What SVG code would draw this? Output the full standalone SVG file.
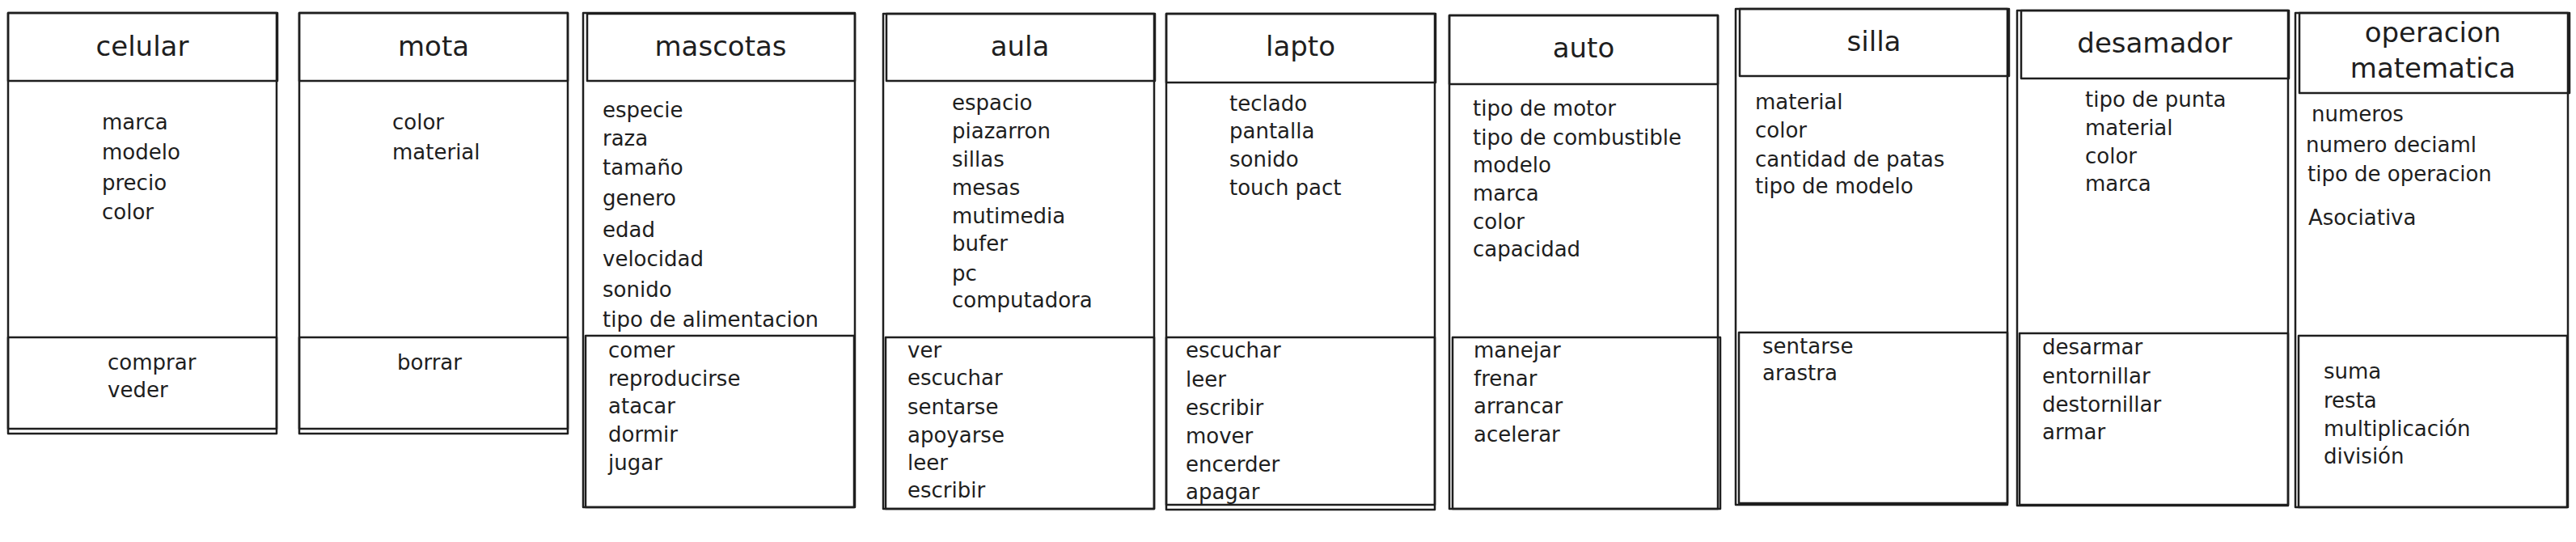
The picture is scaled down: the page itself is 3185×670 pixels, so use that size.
<svg xmlns="http://www.w3.org/2000/svg" width="3185" height="670" viewBox="0 0 3185 670">
<style>
.bg{fill:#ffffff}
.r{fill:none;stroke:#1e1e1e;stroke-width:2.5;stroke-linejoin:round}
text{font-family:"DejaVu Sans","Liberation Sans",sans-serif;fill:#1e1e1e}
.t{font-size:34px;text-anchor:middle}
.i{font-size:26px}
</style>
<rect class="bg" x="0" y="0" width="3185" height="670"/>
<g id="connectors"></g>

<g id="celular">
<rect class="r" x="10" y="16" width="332" height="520"/>
<rect class="r" x="10" y="16" width="333" height="84"/>
<rect class="r" x="10" y="417" width="332" height="113"/>
<text class="t" x="176" y="69">celular</text>
<text class="i" x="126" y="160">marca</text>
<text class="i" x="126" y="197">modelo</text>
<text class="i" x="126" y="235">precio</text>
<text class="i" x="126" y="271">color</text>
<text class="i" x="133" y="457">comprar</text>
<text class="i" x="133" y="491">veder</text>
</g>

<g id="mota">
<rect class="r" x="370" y="16" width="332" height="520"/>
<rect class="r" x="370" y="16" width="332" height="84"/>
<rect class="r" x="370" y="417" width="332" height="113"/>
<text class="t" x="536" y="69">mota</text>
<text class="i" x="485" y="160">color</text>
<text class="i" x="485" y="197">material</text>
<text class="i" x="491" y="457">borrar</text>
</g>

<g id="mascotas">
<rect class="r" x="721" y="16" width="336" height="611"/>
<rect class="r" x="726" y="17" width="331" height="83"/>
<rect class="r" x="724" y="415" width="332" height="212"/>
<text class="t" x="891" y="69">mascotas</text>
<text class="i" x="745" y="145">especie</text>
<text class="i" x="745" y="180">raza</text>
<text class="i" x="745" y="216">tamaño</text>
<text class="i" x="745" y="254">genero</text>
<text class="i" x="745" y="293">edad</text>
<text class="i" x="745" y="329">velocidad</text>
<text class="i" x="745" y="367">sonido</text>
<text class="i" x="745" y="404">tipo de alimentacion</text>
<text class="i" x="752" y="442">comer</text>
<text class="i" x="752" y="477">reproducirse</text>
<text class="i" x="752" y="511">atacar</text>
<text class="i" x="752" y="546">dormir</text>
<text class="i" x="752" y="581">jugar</text>
</g>

<g id="aula">
<rect class="r" x="1092" y="17" width="335" height="612"/>
<rect class="r" x="1096" y="17" width="332" height="83"/>
<rect class="r" x="1095" y="417" width="332" height="212"/>
<text class="t" x="1261" y="69">aula</text>
<text class="i" x="1177" y="136">espacio</text>
<text class="i" x="1177" y="171">piazarron</text>
<text class="i" x="1177" y="206">sillas</text>
<text class="i" x="1177" y="241">mesas</text>
<text class="i" x="1177" y="276">mutimedia</text>
<text class="i" x="1177" y="310">bufer</text>
<text class="i" x="1177" y="347">pc</text>
<text class="i" x="1177" y="380">computadora</text>
<text class="i" x="1122" y="442">ver</text>
<text class="i" x="1122" y="476">escuchar</text>
<text class="i" x="1122" y="512">sentarse</text>
<text class="i" x="1122" y="547">apoyarse</text>
<text class="i" x="1122" y="581">leer</text>
<text class="i" x="1122" y="615">escribir</text>
</g>

<g id="lapto">
<rect class="r" x="1442" y="17" width="332" height="613"/>
<rect class="r" x="1442" y="17" width="333" height="85"/>
<rect class="r" x="1442" y="417" width="332" height="207"/>
<text class="t" x="1608" y="69">lapto</text>
<text class="i" x="1520" y="137">teclado</text>
<text class="i" x="1520" y="171">pantalla</text>
<text class="i" x="1520" y="206">sonido</text>
<text class="i" x="1520" y="241">touch pact</text>
<text class="i" x="1466" y="442">escuchar</text>
<text class="i" x="1466" y="478">leer</text>
<text class="i" x="1466" y="513">escribir</text>
<text class="i" x="1466" y="548">mover</text>
<text class="i" x="1466" y="583">encerder</text>
<text class="i" x="1466" y="617">apagar</text>
</g>

<g id="auto">
<rect class="r" x="1792" y="19" width="332" height="610"/>
<rect class="r" x="1792" y="19" width="332" height="85"/>
<rect class="r" x="1796" y="417" width="331" height="212"/>
<text class="t" x="1958" y="71">auto</text>
<text class="i" x="1821" y="143">tipo de motor</text>
<text class="i" x="1821" y="179">tipo de combustible</text>
<text class="i" x="1821" y="213">modelo</text>
<text class="i" x="1821" y="248">marca</text>
<text class="i" x="1821" y="283">color</text>
<text class="i" x="1821" y="317">capacidad</text>
<text class="i" x="1822" y="442">manejar</text>
<text class="i" x="1822" y="477">frenar</text>
<text class="i" x="1822" y="511">arrancar</text>
<text class="i" x="1822" y="546">acelerar</text>
</g>

<g id="silla">
<rect class="r" x="2146" y="11" width="336" height="613"/>
<rect class="r" x="2151" y="11" width="333" height="83"/>
<rect class="r" x="2150" y="411" width="332" height="211"/>
<text class="t" x="2317" y="63">silla</text>
<text class="i" x="2170" y="135">material</text>
<text class="i" x="2170" y="170">color</text>
<text class="i" x="2170" y="206">cantidad de patas</text>
<text class="i" x="2170" y="239">tipo de modelo</text>
<text class="i" x="2179" y="437">sentarse</text>
<text class="i" x="2179" y="470">arastra</text>
</g>

<g id="desamador">
<rect class="r" x="2494" y="13" width="335" height="612"/>
<rect class="r" x="2499" y="13" width="331" height="84"/>
<rect class="r" x="2497" y="412" width="332" height="212"/>
<text class="t" x="2664" y="65">desamador</text>
<text class="i" x="2578" y="132">tipo de punta</text>
<text class="i" x="2578" y="167">material</text>
<text class="i" x="2578" y="202">color</text>
<text class="i" x="2578" y="236">marca</text>
<text class="i" x="2525" y="438">desarmar</text>
<text class="i" x="2525" y="474">entornillar</text>
<text class="i" x="2525" y="509">destornillar</text>
<text class="i" x="2525" y="543">armar</text>
</g>

<g id="operacion-matematica">
<rect class="r" x="2838" y="16" width="337" height="611"/>
<rect class="r" x="2843" y="16" width="334" height="99"/>
<rect class="r" x="2842" y="415" width="332" height="212"/>
<text class="t" x="3008" y="52">operacion</text>
<text class="t" x="3008" y="96">matematica</text>
<text class="i" x="2858" y="150">numeros</text>
<text class="i" x="2851" y="188">numero deciaml</text>
<text class="i" x="2853" y="224">tipo de operacion</text>
<text class="i" x="2854" y="278">Asociativa</text>
<text class="i" x="2873" y="468">suma</text>
<text class="i" x="2873" y="504">resta</text>
<text class="i" x="2873" y="539">multiplicación</text>
<text class="i" x="2873" y="573">división</text>
</g>
</svg>
